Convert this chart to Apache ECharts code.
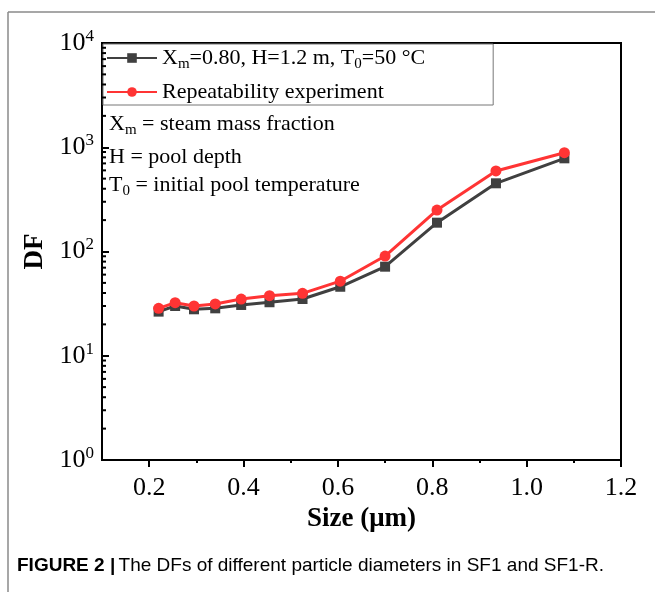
<!DOCTYPE html>
<html>
<head>
<meta charset="utf-8">
<script src="https://cdn.jsdelivr.net/npm/echarts@6/dist/echarts.min.js"></script>
<style>
html,body{margin:0;padding:0;background:#fff;}
#chart{width:655px;height:592px;}
</style>
</head>
<body>
<div id="chart"></div>
<script>
// ---- data ----
const sizeMain = [0.22, 0.255, 0.295, 0.34, 0.395, 0.455, 0.525, 0.605, 0.70, 0.81, 0.935, 1.08];
const dfMain   = [26.5, 30.0, 27.9, 28.5, 30.7, 32.6, 35.0, 45.9, 71.5, 189, 451, 783];
const sizeRep  = [0.22, 0.255, 0.295, 0.34, 0.395, 0.455, 0.525, 0.605, 0.70, 0.81, 0.935, 1.08];
const dfRep    = [28.5, 32.3, 30.0, 31.4, 35.0, 37.7, 39.7, 51.9, 90.5, 250, 592, 887];
const xMajorTicks = [0.2, 0.4, 0.6, 0.8, 1.0, 1.2];
const xMinorTicks = [0.3, 0.5, 0.7, 0.9, 1.1];
const yMinorTicks = [2,3,4,5,6,7,8,9, 20,30,40,50,60,70,80,90, 200,300,400,500,600,700,800,900, 2000,3000,4000,5000,6000,7000,8000,9000];
const seriesNames = ['main', 'Repeatability experiment'];
const xMin = 0.1, xMax = 1.2, yMin = 1, yMax = 10000;

const serif = '"Liberation Serif", "Times New Roman", serif';
const sans = '"Liberation Sans Narrow", "Arial Narrow", "Liberation Sans", sans-serif';
const chart = echarts.init(document.getElementById('chart'));

const annRich = {
  n: { fontFamily: serif, fontSize: 22, fill: '#000' },
  sub: { fontFamily: serif, fontSize: 15, fill: '#000', padding: [13, 0, 0, 0] }
};

const option = {
  backgroundColor: '#fff',
  animation: false,
  grid: { left: 102, right: 34, top: 43, bottom: 132, show: true, borderColor: '#000', borderWidth: 2 },
  legend: {
    data: seriesNames,
    orient: 'vertical',
    left: 103, top: 44,
    padding: [3, 68, 2, 3],
    itemGap: 9,
    itemWidth: 50, itemHeight: 12,
    backgroundColor: '#fff',
    borderColor: '#777', borderWidth: 1,
    formatter: function (name) {
      if (name === 'main') return '{n|X}{sub|m}{n|=0.80, H=1.2 m, T}{sub|0}{n|=50 °C}';
      return '{n|' + name + '}';
    },
    textStyle: {
      fontFamily: serif, fontSize: 22, color: '#000',
      rich: {
        n: { fontFamily: serif, fontSize: 22, color: '#000' },
        sub: { fontFamily: serif, fontSize: 15, color: '#000', padding: [13, 0, 0, 0] }
      }
    }
  },
  xAxis: [{
    type: 'value', min: xMin, max: xMax, position: 'bottom',
    axisLine: { lineStyle: { color: '#000', width: 2 } },
    axisTick: { customValues: xMajorTicks, inside: false, length: 7, lineStyle: { color: '#000', width: 2 } },
    axisLabel: { customValues: xMajorTicks, fontFamily: serif, fontSize: 26, color: '#000', margin: 15,
      formatter: v => v.toFixed(1) },
    splitLine: { show: false },
    name: 'Size (μm)', nameLocation: 'middle', nameGap: 44,
    nameTextStyle: { fontFamily: serif, fontSize: 27, fontWeight: 'bold', color: '#000' }
  }, {
    type: 'value', min: xMin, max: xMax, position: 'bottom',
    axisLine: { show: false },
    axisTick: { customValues: xMinorTicks, inside: false, length: 3, lineStyle: { color: '#000', width: 2 } },
    axisLabel: { show: false },
    splitLine: { show: false }
  }],
  yAxis: {
    type: 'log', logBase: 10, min: yMin, max: yMax,
    axisLine: { lineStyle: { color: '#000', width: 2 } },
    axisTick: { inside: true, length: 7, lineStyle: { color: '#000', width: 2 } },
    axisLabel: {
      margin: 8,
      formatter: v => '{b|10}{s|' + Math.round(Math.log10(v)) + '}',
      rich: {
        b: { fontFamily: serif, fontSize: 26, color: '#000' },
        s: { fontFamily: serif, fontSize: 17, color: '#000', padding: [0, 0, 13, 0] }
      }
    },
    splitLine: { show: false },
    name: 'DF', nameLocation: 'middle', nameGap: 49, nameRotate: 90,
    nameTextStyle: { fontFamily: serif, fontSize: 27, fontWeight: 'bold', color: '#000' }
  },
  series: [
    {
      name: seriesNames[0], type: 'line',
      data: sizeMain.map((x, i) => [x, dfMain[i]]),
      symbol: 'rect', symbolSize: 10,
      lineStyle: { color: '#404040', width: 3 },
      itemStyle: { color: '#404040' },
      z: 3
    },
    {
      name: seriesNames[1], type: 'line',
      data: sizeRep.map((x, i) => [x, dfRep[i]]),
      symbol: 'circle', symbolSize: 11,
      lineStyle: { color: '#ff3434', width: 3 },
      itemStyle: { color: '#ff3434' },
      z: 4
    },
    {
      name: 'yMinor', type: 'custom', silent: true,
      data: yMinorTicks.map(v => [xMin, v]),
      renderItem: function (params, api) {
        const p = api.coord([api.value(0), api.value(1)]);
        return { type: 'line', shape: { x1: p[0], y1: p[1], x2: p[0] + 4, y2: p[1] },
          style: { stroke: '#000', lineWidth: 2 } };
      },
      z: 5
    }
  ],
  graphic: [
    { type: 'line', shape: { x1: 8, y1: 12, x2: 655, y2: 12 }, style: { stroke: '#8a8a8a', lineWidth: 1.5 } },
    { type: 'line', shape: { x1: 8, y1: 12, x2: 8, y2: 592 }, style: { stroke: '#8a8a8a', lineWidth: 1.5 } },
    { type: 'text', left: 109, top: 113, style: { text: '{n|X}{sub|m}{n| = steam mass fraction}', rich: annRich } },
    { type: 'text', left: 109, top: 146, style: { text: '{n|H = pool depth}', rich: annRich } },
    { type: 'text', left: 109, top: 174, style: { text: '{n|T}{sub|0}{n| = initial pool temperature}', rich: annRich } },
    { type: 'text', left: 17, top: 556, style: {
      text: '{b|FIGURE 2 |} {n|The DFs of different particle diameters in SF1 and SF1-R.}',
      rich: {
        b: { fontFamily: sans, fontSize: 19, fontWeight: 'bold', fill: '#000' },
        n: { fontFamily: sans, fontSize: 19, fill: '#000' }
      } } }
  ]
};
chart.setOption(option);
</script>
</body>
</html>
